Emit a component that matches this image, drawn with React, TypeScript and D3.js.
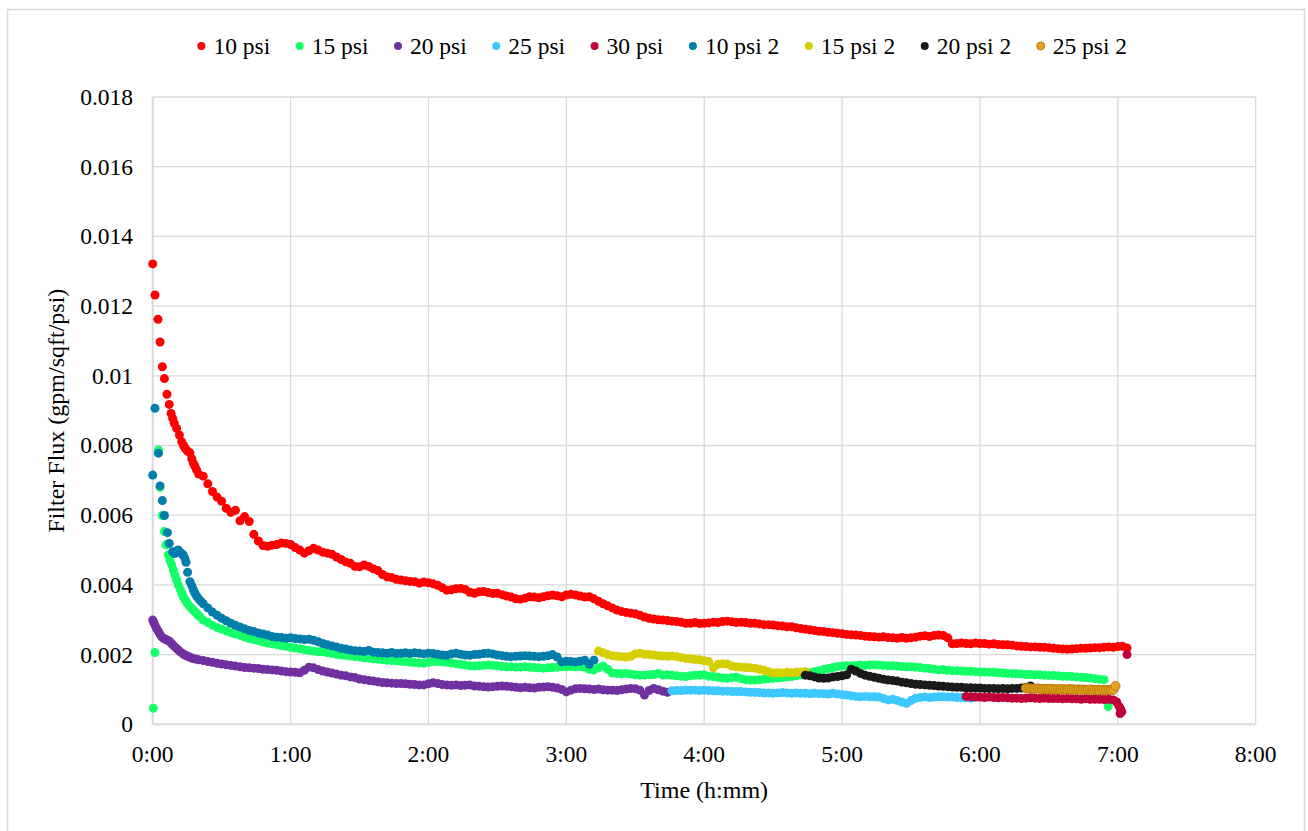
import React from "react";
import * as d3 from "d3";

// ---------- DATA (time in minutes, flux in gpm/sqft/psi) ----------
const seriesNames = ["10 psi", "15 psi", "20 psi", "25 psi", "30 psi", "10 psi 2", "15 psi 2", "20 psi 2", "25 psi 2"];
const seriesColors = ["#FF0000", "#14FF68", "#7030A0", "#3CC8FF", "#C00039", "#007DAA", "#D6CF00", "#1A1A1A", "#E8A11E"];

const xTickLabels = ["0:00", "1:00", "2:00", "3:00", "4:00", "5:00", "6:00", "7:00", "8:00"];
const yTickValues = [0, 0.002, 0.004, 0.006, 0.008, 0.01, 0.012, 0.014, 0.016, 0.018];

// 10 psi
const red10Early: [number, number][] = [
  [0, .01321], [1, .01232], [2.3, .01162], [3.2, .01097], [4.2, .01026], [5.1, .00992], [6.2, .00947], [7.2, .00918],
  [8, .00892], [8.7, .00878], [9.4, .00864], [10.4, .00849], [11.6, .0083], [12.6, .00811], [13.4, .008], [14.1, .00792],
  [15, .00785], [16.2, .00779], [17, .00762], [17.7, .00749], [18.4, .0074], [19.1, .0073], [20, .00718],
];
const red10Start = 22;
const red10Values = [
  .00712, .0069, .00668, .00652, .0064, .0062, .00608, .00614, .00584, .00596, // 22-40
  .00582, .00545, .00526, .00513, .00511, .00514, .00516, .0052, .00519, .00516, // 42-60
  .00507, .005, .00491, .00498, .00505, .005, .00494, .00491, .00488, .0048, // 62-80
  .00473, .00466, .00462, .00453, .00452, .00457, .00453, .00446, .00441, .0043, // 82-100
  .00423, .00421, .00416, .00414, .00412, .0041, .00409, .00405, .00408, .00406, // 102-120
  .00403, .00399, .00392, .00385, .00386, .00389, .0039, .00387, .00379, .00376, // 122-140
  .0038, .00381, .00378, .00375, .00376, .00372, .00368, .00365, .0036, .00359, // 142-160
  .00362, .00366, .00365, .00363, .00366, .00369, .00371, .00369, .00366, .00371, // 162-180
  .00373, .00371, .00368, .00365, .00366, .0036, .00353, .00346, .0034, .00334, // 182-200
  .00328, .00324, .00321, .00319, .00317, .00313, .00308, .00304, .00302, .003, // 202-220
  .00299, .00298, .00296, .00295, .00293, .0029, .0029, .00292, .00289, .0029, // 222-240
  .00291, .00293, .00292, .00295, .00296, .00294, .00292, .00293, .00292, .0029, // 242-260
  .0029, .00288, .00286, .00286, .00285, .00283, .00282, .0028, .0028, .00277, // 262-280
  .00275, .00273, .00271, .00269, .00267, .00266, .00264, .00263, .00261, .0026, // 282-300
  .00258, .00257, .00256, .00255, .00253, .00252, .00251, .0025, .00251, .00249, // 302-320
  .00248, .00247, .00249, .00247, .00248, .0025, .00253, .00254, .00252, .00255, // 322-340
  .00256, .00255, .00248, .00231, .00232, .00233, .00232, .00231, .00233, .00232, // 342-360
  .00232, .0023, .00231, .00229, .00228, .00228, .00227, .00225, .00224, .00223, // 362-380
  .00222, .00222, .00221, .00221, .0022, .00218, .00217, .00216, .00215, .00216, // 382-400
  .00217, .00218, .00218, .00219, .0022, .0022, .00221, .00222, .00221, .00223, // 402-420
  .00224, .00219, // 422-424
];

// 15 psi
const green15Early: [number, number][] = [
  [0.3, .00046], [1, .00206], [2.5, .00787], [3.2, .0068], [4.2, .00599], [5.1, .00553], [5.8, .00515], [6.8, .00486],
  [7.5, .0047], [8.3, .00457], [9, .00442], [9.7, .00428], [10.4, .00414], [11.2, .00399], [12, .00387], [12.7, .00376],
  [13.3, .00366], [14.2, .00356], [15, .00348], [16, .00339], [17, .00332], [17.7, .00328], [18.6, .00321], [19.5, .00315], [20.4, .00309],
];
const green15Start = 22;
const green15Values = [
  .00299, .00292, .00284, .00278, .00273, .00268, .00263, .00259, .00255, .0025, // 22-40
  .00246, .00243, .0024, .00236, .00233, .00231, .00229, .00226, .00224, .00221, // 42-60
  .00219, .00217, .00214, .00212, .0021, .00208, .00208, .00206, .00204, .00201, // 62-80
  .00199, .00198, .00196, .00194, .00193, .00191, .0019, .00188, .00187, .00185, // 82-100
  .00184, .00183, .00182, .00181, .0018, .00178, .00177, .00176, .00175, .00178, // 102-120
  .0018, .0018, .00179, .00178, .00176, .00174, .00172, .0017, .00168, .00167, // 122-140
  .00168, .00169, .0017, .00169, .00168, .00166, .00165, .00165, .00164, .00164, // 142-160
  .00165, .00164, .00163, .00162, .00161, .00162, .00163, .00164, .00165, .00165, // 162-180
  .00166, .00165, .00166, .00164, .00158, .00156, .00162, .00167, .00158, .00147, // 182-200
  .00146, .00145, .00146, .00144, .00142, .00141, .00141, .00142, .00143, .00146, // 202-220
  .00141, .00142, .00141, .00139, .00138, .00137, .00139, .00141, .00141, .00142, // 222-240
  .00138, .00137, .00135, .00133, .00132, .00134, .00135, .00131, .00128, .00127, // 242-260
  .00127, .00128, .00129, .00131, .00132, .00133, .00134, .00136, .00137, .00139, // 262-280
  .00142, .00145, .00148, .00151, .00154, .00157, .0016, .00163, .00166, .00167, // 282-300
  .00168, .00168, .00169, .0017, .00169, .0017, .00171, .0017, .00169, .00168, // 302-320
  .00168, .00167, .00166, .00165, .00165, .00164, .00163, .00161, .0016, .00158, // 322-340
  .00156, .00157, .00155, .00154, .00154, .00153, .00152, .00152, .00151, .0015, // 342-360
  .0015, .00149, .00149, .00148, .00147, .00146, .00146, .00145, .00144, .00143, // 362-380
  .00143, .00142, .00142, .00141, .0014, .0014, .00139, .00138, .00138, .00137, // 382-400
  .00136, .00135, .00134, .00133, .00131, .00129, .00128, // 402-414
];
const green15Late: [number, number][] = [[415.8, .00051]];

// 20 psi
const purple20Early: [number, number][] = [
  [0, .00299], [0.5, .00292], [1, .00284], [1.7, .00275], [2.4, .00267], [3.1, .00259], [3.9, .00251], [4.7, .00247],
  [5.5, .00244], [6.2, .00242], [6.8, .0024], [7.5, .00237], [8.3, .00231], [9.2, .00225], [10, .0022], [11, .00214],
  [12, .00208], [13, .00203], [14, .00199], [15, .00196], [16, .00193], [17, .0019], [18, .00188], [19, .00187], [20, .00185],
];
const purple20Start = 22;
const purple20Values = [
  .00183, .0018, .00178, .00175, .00173, .00171, .00169, .00167, .00165, .00163, // 22-40
  .00162, .00161, .0016, .00158, .00157, .00156, .00155, .00153, .00151, .0015, // 42-60
  .00149, .00148, .00155, .00164, .00162, .00157, .00153, .0015, .00147, .00144, // 62-80
  .00141, .00139, .00136, .00134, .0013, .00128, .00126, .00124, .00122, .0012, // 82-100
  .00119, .00118, .00117, .00117, .00116, .00115, .00114, .00113, .00113, .00116, // 102-120
  .00119, .00117, .00114, .00113, .00112, .00113, .00111, .00112, .00113, .0011, // 122-140
  .00109, .00108, .00107, .00108, .00109, .0011, .00109, .00108, .00106, .00105, // 142-160
  .00106, .00105, .00104, .00106, .00107, .00108, .00106, .00104, .001, .00093, // 162-180
  .00098, .00102, .00103, .00102, .00101, .001, .00101, .00099, .00098, .00098, // 182-200
  .00097, .00099, .00101, .00103, .00102, .00098, .00084, .00097, .00103, .00099, // 202-220
  .00095, .00092, // 222-224
];

// 25 psi
const cyan25Start = 226;
const cyan25Values = [
  .00096, .00097, .00097, .00098, .00098, .00098, .00097, .00098, .00097, .00096, // 226-244
  .00096, .00095, .00095, .00094, .00094, .00094, .00093, .00092, .00092, .00091, // 246-264
  .0009, .0009, .00089, .0009, .00091, .0009, .00089, .0009, .00089, .00089, // 266-284
  .00088, .00089, .00088, .00088, .00087, .00089, .00087, .00085, .00084, .00082, // 286-304
  .0008, .00079, .0008, .00079, .00079, .00078, .00074, .0007, .00072, .00068, // 306-324
  .00064, .0006, .00068, .00075, .00077, .00078, .00077, .00078, .00079, .00079, // 326-344
  .00078, .00078, .00077, .00077, .00076, .00075, // 346-356
];

// 30 psi
const crimson30Start = 354;
const crimson30Values = [
  .0008, .00079, .00078, .00078, .00077, .00078, .00077, .00076, .00077, .00076, // 354-372
  .00075, .00075, .00074, .00075, .00076, .00075, .00074, .00075, .00074, .00074, // 374-392
  .00074, .00073, .00074, .00073, .00073, .00072, .00073, .00072, .00072, .00072, // 394-412
  .00071, .00072, .0007, // 414-418
];
const crimson30Late: [number, number][] = [[419.5, .00064], [420.5, .00052], [421.2, .00044], [421.7, .00036], [421, .00031], [424, .002]];

// 10 psi 2
const blue10bEarly: [number, number][] = [
  [0, .00715], [1, .00907], [2.5, .00778], [3.2, .00684], [4.2, .00642], [5.1, .00599], [6.4, .0055], [7.2, .00519],
  [8.7, .00495], [9.5, .0049], [10.3, .00497], [11.1, .005], [12, .00494], [12.8, .00488], [13.3, .00486], [14, .00476],
  [14.5, .00465], [15.2, .00436], [16.2, .00409], [17, .00398], [17.7, .00386], [18.4, .00376], [19.2, .00367], [20, .0036], [21, .00353],
];
const blue10bStart = 22;
const blue10bValues = [
  .00346, .00334, .00322, .00313, .00304, .00297, .0029, .00284, .00279, .00274, // 22-40
  .00269, .00266, .00262, .00259, .00256, .00252, .0025, .00249, .00247, .00248, // 42-60
  .00246, .00245, .00243, .00244, .00241, .00237, .00232, .00228, .00225, .00222, // 62-80
  .00218, .00216, .00213, .00211, .0021, .00209, .00212, .00207, .00206, .00205, // 82-100
  .00204, .00206, .00203, .00204, .00205, .00203, .00205, .00204, .00202, .00204, // 102-120
  .00203, .00201, .00199, .00198, .00202, .00204, .00201, .00199, .00198, .002, // 122-140
  .00201, .00203, .00204, .00202, .00199, .00197, .00195, .00194, .00195, .00196, // 142-160
  .00197, .00196, .00195, .00194, .00195, .00197, .002, .00193, .00179, .00181, // 162-180
  .0018, .00179, .00181, .00184, .00172, .00184, // 182-192
];

// 15 psi 2
const yellow15bStart = 194;
const yellow15bValues = [
  .0021, .00205, .002, .00197, .00195, .00194, .00193, .00195, .00202, .00204, // 194-212
  .00201, .002, .00199, .00197, .00196, .00195, .00196, .00194, .00192, .00189, // 214-232
  .00188, .00186, .00185, .00182, .0018, .00162, .00172, .00174, .00173, .00167, // 234-252
  .00165, .00164, .00163, .00162, .00161, .00158, .00155, .00151, .00147, .00148, // 254-272
  .00147, .00149, .00148, .00149, .0015, .00151, // 274-284
];

// 20 psi 2
const black20bStart = 284;
const black20bValues = [
  .00141, .00139, .00136, .00133, .00132, .00133, .00136, .00137, .00139, .00142, // 284-302
  .00158, .00153, .00146, .00141, .00138, .00135, .00132, .00129, .00127, .00126, // 304-322
  .00124, .00121, .00119, .00117, .00115, .00114, .00113, .00112, .00111, .0011, // 324-342
  .00109, .00108, .00107, .00106, .00106, .00105, .00105, .00104, .00104, .00103, // 344-362
  .00103, .00103, .00102, .00103, .00102, .00103, .00103, .00104, .00106, .0011, // 364-382
];

// 25 psi 2 (1-minute readings)
const orange25bStart = 380;
const orange25bValues = [
  .00104, .00103, .00103, .00102, .00102, .00103, .00102, .00101, .00102, .00101, // 380-389
  .00101, .00102, .00101, .001, .00101, .001, .00101, .001, .001, .00101, // 390-399
  .001, .001, .00099, .001, .00099, .001, .00099, .00099, .001, .00099, // 400-409
  .00098, .00099, .00098, .00099, .00098, .00098, .00099, .00098, .00099, .0011, // 410-419
];

// ---------- helpers ----------
const seq = (start: number, step: number, values: number[]): [number, number][] =>
  values.map((v, i) => [start + i * step, v] as [number, number]);

const seriesPoints: [number, number][][] = [
  [...red10Early, ...seq(red10Start, 2, red10Values)],
  [...green15Early, ...seq(green15Start, 2, green15Values), ...green15Late],
  [...purple20Early, ...seq(purple20Start, 2, purple20Values)],
  seq(cyan25Start, 2, cyan25Values),
  [...seq(crimson30Start, 2, crimson30Values), ...crimson30Late],
  [...blue10bEarly, ...seq(blue10bStart, 2, blue10bValues)],
  seq(yellow15bStart, 2, yellow15bValues),
  seq(black20bStart, 2, black20bValues),
  seq(orange25bStart, 1, orange25bValues),
];

const W = 1308;
const H = 831;
const FONT = '"Liberation Serif", "Times New Roman", "DejaVu Serif", serif';
const FS = 23.5;
const plot = { left: 152.7, right: 1255.7, top: 97, bottom: 724.3 };
const GRID = "#D9D9D9";
const textStyle: React.CSSProperties = { fontFamily: FONT, fontSize: FS, fill: "#000" };

function measure(text: string): number {
  if (typeof document === "undefined") return text.length * FS * 0.45;
  const c = document.createElement("canvas").getContext("2d");
  if (!c) return text.length * FS * 0.45;
  c.font = `${FS}px "Liberation Serif", serif`;
  return c.measureText(text).width;
}

export default function App() {
  const x = d3.scaleLinear().domain([0, 480]).range([plot.left, plot.right]);
  const y = d3.scaleLinear().domain([0, 0.018]).range([plot.bottom, plot.top]);
  const xTicks = d3.range(0, 481, 60);

  // legend layout
  const legendY = 46;
  const legendGap = 29.5;
  const legendItems: { name: string; color: string; cx: number }[] = [];
  let cx = 201.4;
  seriesNames.forEach((n, i) => {
    legendItems.push({ name: n, color: seriesColors[i], cx });
    cx += 12 + measure(n) + legendGap;
  });

  return (
    <svg width={W} height={H} style={{ position: "absolute", left: 0, top: 0, background: "#fff", fontFamily: FONT }}>
      <rect x={0} y={0} width={W} height={H} fill="#fff" />
      <rect x={7.5} y={9.5} width={1297} height={830} fill="#fff" stroke={GRID} strokeWidth={1.5} />

      {/* gridlines */}
      {yTickValues.slice(1).map((v) => (
        <line key={"gy" + v} x1={plot.left} x2={plot.right} y1={y(v)} y2={y(v)} stroke={GRID} strokeWidth={1.3} />
      ))}
      {xTicks.slice(1).map((t) => (
        <line key={"gx" + t} x1={x(t)} x2={x(t)} y1={plot.top} y2={plot.bottom} stroke={GRID} strokeWidth={1.3} />
      ))}
      {/* axes */}
      <line x1={plot.left} x2={plot.left} y1={plot.top} y2={plot.bottom} stroke={GRID} strokeWidth={2} />
      <line x1={plot.left} x2={plot.right} y1={plot.bottom} y2={plot.bottom} stroke={GRID} strokeWidth={2} />

      {/* y tick labels */}
      {yTickValues.map((v) => (
        <text key={"yl" + v} x={133} y={y(v)} dy="0.34em" textAnchor="end" style={textStyle}>
          {String(+v.toFixed(3))}
        </text>
      ))}
      {/* x tick labels */}
      {xTicks.map((t, i) => (
        <text key={"xl" + t} x={x(t)} y={762} textAnchor="middle" style={textStyle}>
          {xTickLabels[i]}
        </text>
      ))}

      {/* axis titles */}
      <text x={x(240)} y={798} textAnchor="middle" style={{ ...textStyle, fontSize: 24 }}>Time (h:mm)</text>
      <text transform={`translate(64, ${(plot.top + plot.bottom) / 2}) rotate(-90)`} textAnchor="middle" style={{ ...textStyle, fontSize: 24 }}>
        Filter Flux (gpm/sqft/psi)
      </text>

      {/* series */}
      {seriesPoints.map((pts, si) => (
        <g key={"s" + si}>
          {pts.map((p, j) => (
            <circle
              key={j}
              cx={x(p[0])}
              cy={y(p[1])}
              r={4.5}
              fill={seriesColors[si]}
              stroke={si === 8 ? "#B57C0C" : "none"}
              strokeWidth={si === 8 ? 1 : 0}
            />
          ))}
        </g>
      ))}

      {/* legend */}
      {legendItems.map((it, i) => (
        <g key={"lg" + i}>
          <circle cx={it.cx} cy={legendY} r={4} fill={it.color} stroke={i === 8 ? "#B57C0C" : "none"} strokeWidth={i === 8 ? 1 : 0} />
          <text x={it.cx + 12} y={legendY + 8} style={textStyle}>{it.name}</text>
        </g>
      ))}
    </svg>
  );
}
